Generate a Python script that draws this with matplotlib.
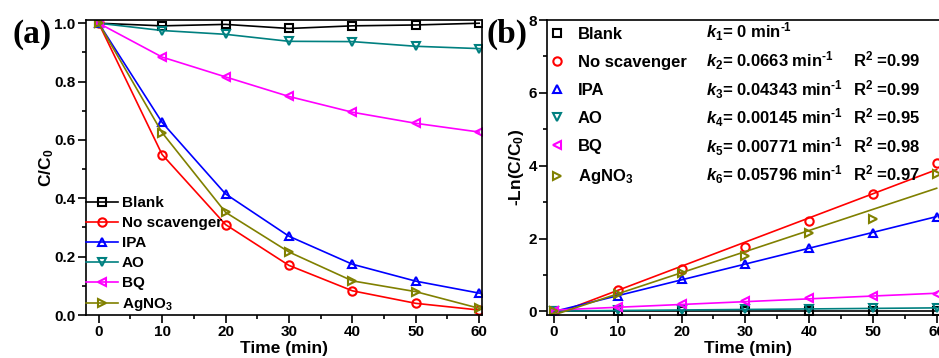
import matplotlib
matplotlib.use("Agg")
import matplotlib.pyplot as plt
import numpy as np

# Scavenger trapping data: C/C0 versus irradiation time
time_min = np.array([0, 10, 20, 30, 40, 50, 60])
blank = [1.0, 0.991, 0.996, 0.982, 0.991, 0.994, 1.0]
no_scavenger = [1.0, 0.55, 0.31, 0.17, 0.083, 0.04, 0.017]
ipa = [1.0, 0.66, 0.415, 0.27, 0.174, 0.116, 0.075]
ao = [1.0, 0.975, 0.962, 0.938, 0.937, 0.921, 0.913]
bq = [1.0, 0.884, 0.816, 0.749, 0.695, 0.657, 0.627]
agno3 = [1.0, 0.625, 0.352, 0.216, 0.117, 0.080, 0.023]

series_labels = ["Blank", "No scavenger", "IPA", "AO", "BQ", "AgNO$_3$"]
series_data = [blank, no_scavenger, ipa, ao, bq, agno3]
series_colors = ["black", "#FF0000", "#0000FF", "#008080", "#FF00FF", "#808000"]
series_markers = ["s", "o", "^", "v", "<", ">"]

# pseudo-first-order rate constants and fit quality
k_values = [0, 0.0663, 0.04343, 0.00145, 0.00771, 0.05796]
k_text = ["0", "0.0663", "0.04343", "0.00145", "0.00771", "0.05796"]
r2_text = [None, "0.99", "0.99", "0.95", "0.98", "0.97"]

plt.rcParams["font.family"] = "Liberation Sans"
plt.rcParams["font.weight"] = "bold"
plt.rcParams["mathtext.fontset"] = "custom"
plt.rcParams["mathtext.rm"] = "Liberation Sans:bold"
plt.rcParams["mathtext.bf"] = "Liberation Sans:bold"
plt.rcParams["mathtext.it"] = "Liberation Sans:bold:italic"
plt.rcParams["axes.linewidth"] = 1.2

fig = plt.figure(figsize=(9.39, 3.58), dpi=100)
ax1 = fig.add_axes([0.0916, 0.1201, 0.4214, 0.824])
ax2 = fig.add_axes([0.5829, 0.1201, 0.4282, 0.824])


def style_axes(ax):
    ax.tick_params(which="both", direction="out", top=False, right=False,
                   labelsize=11, width=1.2, pad=2)
    ax.tick_params(which="major", length=5.5)
    ax.tick_params(which="minor", length=3)
    for lab in ax.get_xticklabels() + ax.get_yticklabels():
        lab.set_fontweight("bold")


# (a) degradation curves
for lab, y, c, m in zip(series_labels, series_data, series_colors, series_markers):
    ax1.plot(time_min, y, color=c, marker=m, markersize=6, mfc="none",
             mew=1.5, lw=1.2, label=lab)

ax1.set_xlim(-2, 60.4)
ax1.set_ylim(0, 1.011)
ax1.set_xticks(np.arange(0, 61, 10))
ax1.set_xticks(np.arange(0, 61, 5), minor=True)
ax1.set_yticks(np.arange(0, 1.01, 0.2))
ax1.set_yticks(np.arange(0, 1.01, 0.1), minor=True)
ax1.yaxis.set_major_formatter(matplotlib.ticker.FormatStrFormatter("%.1f"))
style_axes(ax1)
ax1.set_xlabel("Time (min)", fontsize=12.5, fontweight="bold", labelpad=1)
ax1.set_ylabel("C/C$_0$", fontsize=12.5, fontweight="bold", labelpad=-1)
ax1.legend(loc="lower left", bbox_to_anchor=(0, 0.007), frameon=False,
           fontsize=11, handlelength=2.1, handletextpad=0.26,
           labelspacing=0.39, borderpad=0, borderaxespad=0)

# (b) kinetic fits, -ln(C/C0) versus time
for lab, y, c, m, k in zip(series_labels, series_data, series_colors,
                           series_markers, k_values):
    ln_y = -np.log(np.array(y))
    intercept = ln_y.mean() - k * time_min.mean()
    ax2.plot(time_min, k * time_min + intercept, color=c, lw=1.2)
    ax2.plot(time_min, ln_y, linestyle="none", color=c, marker=m,
             markersize=6, mfc="none", mew=1.5, label=lab)

ax2.set_xlim(-1.05, 62)
ax2.set_ylim(-0.1, 8)
ax2.set_xticks(np.arange(0, 61, 10))
ax2.set_xticks(np.arange(0, 61, 5), minor=True)
ax2.set_yticks(np.arange(0, 8.1, 2))
ax2.set_yticks(np.arange(0, 8.1, 1), minor=True)
style_axes(ax2)
ax2.set_xlabel("Time (min)", fontsize=12.5, fontweight="bold", labelpad=1)
ax2.set_ylabel("-Ln(C/C$_0$)", fontsize=12.5, fontweight="bold", labelpad=2)
ax2.legend(loc="upper left", bbox_to_anchor=(0.003, 0.978), frameon=False,
           fontsize=12, handlelength=1.0, handletextpad=0.76,
           labelspacing=0.79, borderpad=0, borderaxespad=0)

row_y = [0.941, 0.843, 0.745, 0.650, 0.551, 0.456]
for i, (kt, rt) in enumerate(zip(k_text, r2_text)):
    ax2.text(0.394, row_y[i], r"$k_{%d}$= %s min$^{\text{-}1}$" % (i + 1, kt),
             transform=ax2.transAxes, fontsize=12, fontweight="bold",
             va="baseline")
    if rt is not None:
        ax2.text(0.761, row_y[i], "R$^2$ =%s" % rt, transform=ax2.transAxes,
                 fontsize=12, fontweight="bold", va="baseline")

fig.text(0.034, 0.905, "(a)", family="Liberation Serif", fontsize=24,
         fontweight="bold", ha="center", va="center")
fig.text(0.540, 0.905, "(b)", family="Liberation Serif", fontsize=24,
         fontweight="bold", ha="center", va="center")

fig.savefig("out.png", dpi=100)
